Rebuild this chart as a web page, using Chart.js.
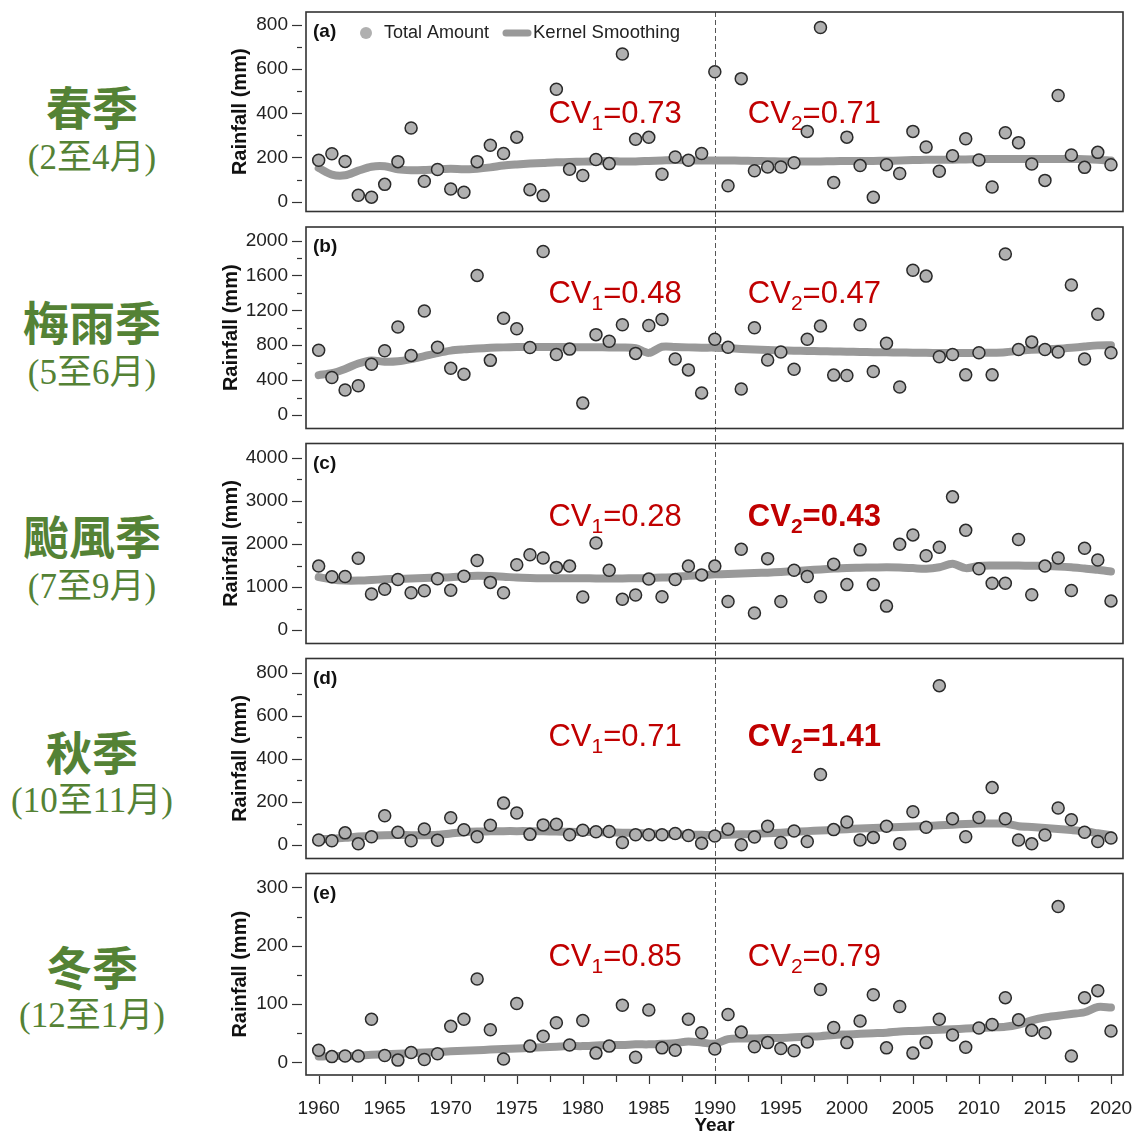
<!DOCTYPE html>
<html>
<head>
<meta charset="utf-8">
<script src="https://cdn.jsdelivr.net/npm/chart.js@4.4.1/dist/chart.umd.min.js"></script>
<style>
  body { margin: 0; background: #fff; width: 1138px; height: 1137px; position: relative; overflow: hidden; }
  canvas { position: absolute; left: 215px; }
  .name, .months { position: absolute; left: 0; width: 184px; text-align: center; color: #548235; white-space: nowrap; }
  .name { font: bold 46px "Noto Sans CJK TC"; line-height: 50px; }
  .months { font: 35px "Liberation Serif", "Noto Sans CJK TC"; line-height: 40px; }
</style>
</head>
<body>
<div class="name" style="top:80px">春季</div>
<div class="months" style="top:138px">(2至4月)</div>
<div class="name" style="top:295px">梅雨季</div>
<div class="months" style="top:353px">(5至6月)</div>
<div class="name" style="top:509px">颱風季</div>
<div class="months" style="top:567px">(7至9月)</div>
<div class="name" style="top:725px">秋季</div>
<div class="months" style="top:781px">(10至11月)</div>
<div class="name" style="top:940px">冬季</div>
<div class="months" style="top:996px">(12至1月)</div>

<canvas id="pa" width="923" height="219" style="top:0px"></canvas>
<canvas id="pb" width="923" height="217" style="top:219px"></canvas>
<canvas id="pc" width="923" height="215" style="top:436px"></canvas>
<canvas id="pd" width="923" height="215" style="top:651px"></canvas>
<canvas id="pe" width="923" height="271" style="top:866px"></canvas>

<script>
// years on the x axis
const years = [1960,1961,1962,1963,1964,1965,1966,1967,1968,1969,
  1970,1971,1972,1973,1974,1975,1976,1977,1978,1979,
  1980,1981,1982,1983,1984,1985,1986,1987,1988,1989,
  1990,1991,1992,1993,1994,1995,1996,1997,1998,1999,
  2000,2001,2002,2003,2004,2005,2006,2007,2008,2009,
  2010,2011,2012,2013,2014,2015,2016,2017,2018,2019,2020];

// (a) spring
const springTotal = [187,217,182,29,20,78,181,333,92,145,
  57,42,181,255,218,292,54,27,509,146,
  118,191,172,669,282,291,124,202,187,218,
  588,72,557,140,157,157,176,318,789,86,
  292,163,20,167,127,318,247,137,208,285,
  188,66,312,267,170,96,481,211,155,223,167];
const springSmooth = [152,122,119,140,158,160,146,142,143,146,
  149,146,149,155,163,168,172,175,178,179,
  181,183,184,182,182,184,186,188,187,186,
  186,186,185,184,183,182,182,182,182,183,
  184,184,184,185,186,188,189,189,190,191,
  192,193,193,193,193,193,193,193,192,190,186];

// (b) plum rain
const plumTotal = [743,430,287,336,581,736,1008,683,1192,777,
  536,468,1600,626,1109,989,774,1875,694,755,
  136,921,845,1034,706,1026,1094,642,517,253,
  868,777,298,1000,630,721,525,868,1019,457,
  453,1034,498,823,321,1660,1592,668,694,460,
  713,460,1845,751,838,751,721,1491,642,1155,713];
const plumSmooth = [457,479,528,590,625,610,615,640,675,710,
  738,752,762,770,775,778,780,780,779,778,
  777,776,775,774,765,712,782,780,775,772,
  772,765,757,750,745,740,737,734,731,728,
  726,723,720,718,716,714,712,711,710,710,
  712,714,720,735,748,752,758,770,785,798,800];

// (c) typhoon
const typhoonTotal = [1487,1238,1245,1668,838,951,1177,868,913,1192,
  928,1253,1615,1109,868,1517,1751,1675,1457,1487,
  770,2023,1389,717,815,1185,777,1177,1487,1283,
  1487,664,1879,400,1660,664,1389,1245,777,1532,
  1057,1864,1057,558,1992,2211,1728,1925,3094,2317,
  1426,1087,1087,2106,823,1487,1675,921,1902,1630,679];
const typhoonSmooth = [1230,1175,1150,1150,1165,1180,1190,1200,1210,1220,
  1230,1250,1260,1255,1240,1220,1210,1205,1205,1205,
  1205,1200,1200,1200,1205,1210,1220,1235,1260,1280,
  1295,1305,1315,1325,1335,1350,1370,1390,1410,1430,
  1445,1450,1455,1460,1455,1440,1425,1460,1540,1440,
  1490,1500,1500,1500,1495,1490,1480,1460,1430,1400,1360];

// (d) autumn
const autumnTotal = [24,20,57,6,39,136,60,20,75,23,
  127,71,39,92,195,149,50,94,97,48,
  69,62,63,12,48,48,48,54,45,9,
  42,74,2,38,88,12,66,17,328,72,
  107,24,36,88,6,155,83,740,122,39,
  128,267,122,24,6,47,172,118,60,17,33];
const autumnSmooth = [28,30,34,40,44,46,47,46,46,48,
  54,60,63,64,65,65,65,64,63,62,
  61,60,59,58,56,54,52,50,49,48,
  47,48,50,52,55,58,62,65,68,71,
  74,77,80,82,84,86,89,92,95,98,
  100,100,100,88,84,80,75,70,64,55,46];

// (e) winter
const winterTotal = [21,10,11,11,74,12,4,17,5,15,
  62,74,143,56,6,101,28,45,68,30,
  72,16,28,98,9,90,25,21,74,51,
  23,82,52,27,34,24,20,35,125,60,
  34,71,116,25,96,16,34,74,47,26,
  59,65,111,73,55,51,267,11,111,123,54];
const winterSmooth = [10,11,11,12,13,14,15,16,17,18,
  19,20,21,22,23,24,25,26,27,28,
  28,29,30,30,31,31,32,33,36,34,
  32,40,41,41,42,42,43,44,45,47,
  48,49,50,51,53,54,55,56,57,58,
  59,60,61,65,72,77,80,83,86,95,94];

// tick values
const springTicks = [0,100,200,300,400,500,600,700,800];
const springLabels = [0,200,400,600,800];
const plumTicks = [0,200,400,600,800,1000,1200,1400,1600,1800,2000];
const plumLabels = [0,400,800,1200,1600,2000];
const typhoonTicks = [0,500,1000,1500,2000,2500,3000,3500,4000];
const typhoonLabels = [0,1000,2000,3000,4000];
const autumnTicks = [0,100,200,300,400,500,600,700,800];
const autumnLabels = [0,200,400,600,800];
const winterTicks = [0,50,100,150,200,250,300];
const winterLabels = [0,100,200,300];
const xTicks = [1960,1962.5,1965,1967.5,1970,1972.5,1975,1977.5,1980,1982.5,1985,1987.5,
  1990,1992.5,1995,1997.5,2000,2002.5,2005,2007.5,2010,2012.5,2015,2017.5,2020];
const xLabels = [1960,1965,1970,1975,1980,1985,1990,1995,2000,2005,2010,2015,2020];

const splitYear = 1990;
const cv1 = ['0.73','0.48','0.28','0.71','0.85'];
const cv2 = ['0.71','0.47','0.43','1.41','0.79'];
const cv2Bold = [false,false,true,true,false];
const letters = ['(a)','(b)','(c)','(d)','(e)'];

const FONT = '"Liberation Sans", Arial, sans-serif';
const RED = '#c00000';

// layout of each panel (pixels) and axis range
const panels = [
  { id:'pa', total:springTotal, smooth:springSmooth, ticks:springTicks, labels:springLabels, min:-45, max:859, padTop:12, padBottom:7, cvTop:111, titleGap:13 },
  { id:'pb', total:plumTotal, smooth:plumSmooth, ticks:plumTicks, labels:plumLabels, min:-155, max:2155, padTop:8, padBottom:5, cvTop:76, titleGap:4 },
  { id:'pc', total:typhoonTotal, smooth:typhoonSmooth, ticks:typhoonTicks, labels:typhoonLabels, min:-310, max:4333, padTop:5, padBottom:5, cvTop:82, titleGap:4 },
  { id:'pd', total:autumnTotal, smooth:autumnSmooth, ticks:autumnTicks, labels:autumnLabels, min:-62, max:866, padTop:5, padBottom:5, cvTop:87, titleGap:13 },
  { id:'pe', total:winterTotal, smooth:winterSmooth, ticks:winterTicks, labels:winterLabels, min:-21.5, max:323.7, padTop:5, padBottom:0, cvTop:92, titleGap:13 }
];

function drawCV(ctx, x, y, sub, val, bold) {
  const w = bold ? 'bold ' : '';
  ctx.fillStyle = RED;
  ctx.textBaseline = 'alphabetic';
  ctx.textAlign = 'left';
  ctx.font = w + '31px ' + FONT;
  ctx.fillText('CV', x, y);
  x += ctx.measureText('CV').width;
  ctx.font = w + '21px ' + FONT;
  ctx.fillText(sub, x, y + 7);
  x += ctx.measureText(sub).width;
  ctx.font = w + '31px ' + FONT;
  ctx.fillText('=' + val, x, y);
}

function makeDecor(p, idx) {
  const first = idx === 0, last = idx === panels.length - 1;
  return {
    id: 'decor' + idx,
    beforeDatasetsDraw(chart) {
      const { ctx, chartArea: a, scales: { x } } = chart;
      const dx = Math.round(x.getPixelForValue(splitYear)) + 0.5;
      ctx.save();
      ctx.strokeStyle = '#555';
      ctx.lineWidth = 1;
      ctx.setLineDash([5, 3]);
      ctx.beginPath();
      ctx.moveTo(dx, first ? a.top : 0);
      ctx.lineTo(dx, last ? a.bottom + 8 : chart.height);
      ctx.stroke();
      ctx.restore();
    },
    afterDraw(chart) {
      const { ctx, chartArea: a, scales: { x, y } } = chart;
      ctx.save();
      // plot box
      ctx.strokeStyle = '#333';
      ctx.lineWidth = 1.6;
      ctx.strokeRect(a.left, a.top, a.right - a.left, a.bottom - a.top);

      // y tick marks, detached from the box
      ctx.lineWidth = 1.2;
      p.ticks.forEach(v => {
        const py = Math.round(y.getPixelForValue(v)) + 0.5;
        const len = p.labels.includes(v) ? 10 : 5;
        ctx.beginPath();
        ctx.moveTo(a.left - 4, py);
        ctx.lineTo(a.left - 4 - len, py);
        ctx.stroke();
      });

      // x tick marks on the bottom panel
      if (last) {
        xTicks.forEach(v => {
          const px = Math.round(x.getPixelForValue(v)) + 0.5;
          ctx.beginPath();
          ctx.moveTo(px, a.bottom + 1);
          ctx.lineTo(px, a.bottom + (xLabels.includes(v) ? 9 : 7));
          ctx.stroke();
        });
      }

      // panel letter
      ctx.fillStyle = '#111';
      ctx.font = 'bold 19px ' + FONT;
      ctx.textBaseline = 'middle';
      ctx.textAlign = 'left';
      ctx.fillText(letters[idx], a.left + 7, a.top + 20);

      // legend in the first panel
      if (first) {
        const ly = a.top + 21;
        ctx.fillStyle = '#b0b0b0';
        ctx.beginPath();
        ctx.arc(a.left + 60, ly, 6, 0, Math.PI * 2);
        ctx.fill();
        ctx.fillStyle = '#222';
        ctx.font = '18px ' + FONT;
        ctx.fillText('Total Amount', a.left + 78, ly);
        ctx.strokeStyle = '#999';
        ctx.lineWidth = 7;
        ctx.lineCap = 'round';
        ctx.beginPath();
        ctx.moveTo(a.left + 200, ly);
        ctx.lineTo(a.left + 222, ly);
        ctx.stroke();
        ctx.font = '18.5px ' + FONT;
        ctx.fillText('Kernel Smoothing', a.left + 227, ly);
      }

      // coefficients of variation
      drawCV(ctx, x.getPixelForValue(1977.4), a.top + p.cvTop, '1', cv1[idx], false);
      drawCV(ctx, x.getPixelForValue(1992.5), a.top + p.cvTop, '2', cv2[idx], cv2Bold[idx]);
      ctx.restore();
    }
  };
}

panels.forEach((p, idx) => {
  const last = idx === panels.length - 1;
  new Chart(document.getElementById(p.id), {
    type: 'scatter',
    data: {
      datasets: [
        {
          label: 'Total Amount',
          data: years.map((yr, i) => ({ x: yr, y: p.total[i] })),
          pointRadius: 6,
          pointBackgroundColor: '#b0b0b0',
          pointBorderColor: '#2a2a2a',
          pointBorderWidth: 1.5,
          showLine: false,
          clip: false
        },
        {
          label: 'Kernel Smoothing',
          data: years.map((yr, i) => ({ x: yr, y: p.smooth[i] })),
          showLine: true,
          borderColor: '#999999',
          borderWidth: 8,
          pointRadius: 0,
          tension: 0.3,
          borderCapStyle: 'round',
          borderJoinStyle: 'round'
        }
      ]
    },
    options: {
      responsive: false,
      animation: false,
      devicePixelRatio: 1,
      layout: { padding: { top: p.padTop, bottom: p.padBottom, left: 0, right: 15 } },
      plugins: { legend: { display: false }, tooltip: { enabled: false } },
      scales: {
        x: {
          type: 'linear',
          min: 1959.04,
          max: 2020.91,
          display: last,
          afterBuildTicks: s => { s.ticks = xTicks.map(v => ({ value: v })); },
          afterFit: s => { s.height = last ? 62 : 0; s.paddingLeft = 0; s.paddingRight = 0; },
          grid: { display: false, drawTicks: false },
          border: { display: false },
          ticks: {
            callback: v => xLabels.includes(v) ? String(v) : '',
            autoSkip: false,
            maxRotation: 0,
            padding: 22,
            color: '#222',
            font: { family: FONT, size: 19 }
          },
          title: { display: true, text: 'Year', color: '#111', padding: 0, font: { family: FONT, size: 19, weight: 'bold' } }
        },
        y: {
          type: 'linear',
          min: p.min,
          max: p.max,
          afterBuildTicks: s => { s.ticks = p.ticks.map(v => ({ value: v })); },
          afterFit: s => { s.width = 91; s.paddingTop = 0; s.paddingBottom = 0; },
          grid: { display: false, drawTicks: false },
          border: { display: false },
          ticks: {
            callback: v => p.labels.includes(v) ? String(v) : '',
            autoSkip: false,
            padding: 18,
            color: '#222',
            font: { family: FONT, size: 19 }
          },
          title: {
            display: true, text: 'Rainfall (mm)', color: '#111',
            padding: { top: p.titleGap, bottom: 0 },
            font: { family: FONT, size: 20, weight: 'bold' }
          }
        }
      }
    },
    plugins: [makeDecor(p, idx)]
  });
});
</script>
</body>
</html>
